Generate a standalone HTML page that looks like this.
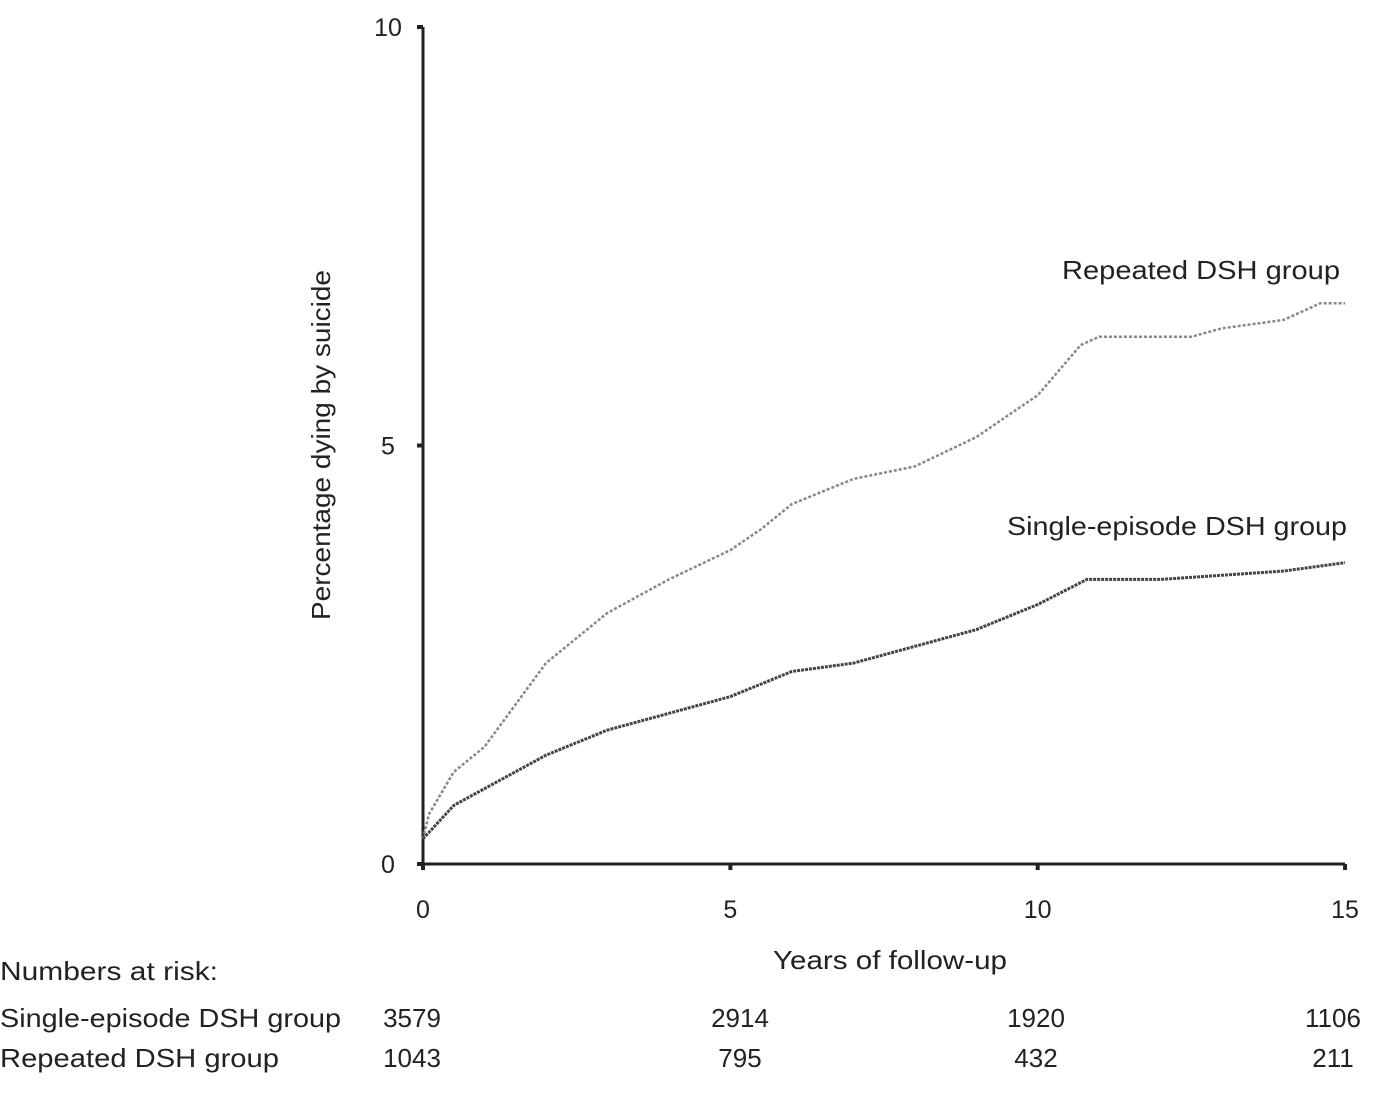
<!DOCTYPE html>
<html><head><meta charset="utf-8"><style>
body{margin:0;background:#fff;}
svg text{font-family:"Liberation Sans",sans-serif;fill:#222;}
</style></head><body>
<svg width="1374" height="1091">
<g id="axes"></g><g id="series"></g><g id="labels"></g>
</svg>
<script>
const xTicks=[0,5,10,15];
const yTicks=[0,5,10];
const repYears=[0,0.1,0.5,1,2,3,4,5,5.5,6,7,8,9,10,10.7,11,12,12.5,13,14,14.6,15];
const repVals=[0.3,0.6,1.1,1.4,2.4,3.0,3.4,3.75,4.0,4.3,4.6,4.75,5.1,5.6,6.2,6.3,6.3,6.3,6.4,6.5,6.7,6.7];
const sinYears=[0,0.5,1,2,3,4,5,6,7,8,9,10,10.8,12,13,14,15];
const sinVals=[0.3,0.7,0.9,1.3,1.6,1.8,2.0,2.3,2.4,2.6,2.8,3.1,3.4,3.4,3.45,3.5,3.6];
const riskSingle=["3579","2914","1920","1106"];
const riskRepeated=["1043","795","432","211"];
const X=v=>423+v*61.47, Y=v=>864-v*83.7;
const NS="http://www.w3.org/2000/svg";
function mk(tag,attrs,parent,txt){const e=document.createElementNS(NS,tag);for(const k in attrs)e.setAttribute(k,attrs[k]);if(txt!==undefined)e.textContent=txt;document.getElementById(parent).appendChild(e);return e;}
let e;
e=mk('line',{x1:X(0),y1:Y(0),x2:X(15),y2:Y(0),stroke:'#222','stroke-width':3},'axes');

e=mk('line',{x1:X(0),y1:Y(0),x2:X(0),y2:Y(10),stroke:'#222','stroke-width':3},'axes');

xTicks.forEach(t=>{
 e=mk('line',{x1:X(t),y1:Y(0),x2:X(t),y2:Y(0)+6,stroke:'#222','stroke-width':4},'axes');
 
 e=mk('text',{x:X(t),y:918,'font-size':25,'text-anchor':'middle'},'axes',String(t));
 
});
yTicks.forEach(t=>{
 e=mk('line',{x1:X(0)-6,y1:Y(t),x2:X(0),y2:Y(t),stroke:'#222','stroke-width':4},'axes');
 
 e=mk('text',{x:X(0)-35,y:Y(t)+9,'font-size':25,'text-anchor':'middle'},'axes',String(t));
 
});
function pts(xs,ys){return xs.map((x,i)=>X(x)+','+Y(ys[i])).join(' ');}
e=mk('polyline',{points:pts(repYears,repVals),fill:'none',stroke:'#888','stroke-width':2.5,'stroke-dasharray':'3,2'},'series');

e=mk('polyline',{points:pts(sinYears,sinVals),fill:'none',stroke:'#444','stroke-width':3,'stroke-dasharray':'3,1'},'series');

e=mk('text',{x:1062,y:279,'font-size':26,textLength:278,lengthAdjust:'spacingAndGlyphs'},'labels','Repeated DSH group');

e=mk('text',{x:1007,y:535,'font-size':26,textLength:340,lengthAdjust:'spacingAndGlyphs'},'labels','Single-episode DSH group');

e=mk('text',{x:330,y:620,'font-size':26,textLength:350,lengthAdjust:'spacingAndGlyphs',transform:'rotate(-90 330 620)'},'labels','Percentage dying by suicide');

e=mk('text',{x:773,y:969,'font-size':26,textLength:234,lengthAdjust:'spacingAndGlyphs'},'labels','Years of follow-up');

e=mk('text',{x:0,y:980,'font-size':26,textLength:218,lengthAdjust:'spacingAndGlyphs'},'labels','Numbers at risk:');

e=mk('text',{x:0,y:1027,'font-size':26,textLength:341,lengthAdjust:'spacingAndGlyphs'},'labels','Single-episode DSH group');

e=mk('text',{x:0,y:1067,'font-size':26,textLength:279,lengthAdjust:'spacingAndGlyphs'},'labels','Repeated DSH group');

const riskX=[412,740,1036,1333];
riskSingle.forEach((v,i)=>{e=mk('text',{x:riskX[i],y:1027,'font-size':26,'text-anchor':'middle'},'labels',v);
 });
riskRepeated.forEach((v,i)=>{e=mk('text',{x:riskX[i],y:1067,'font-size':26,'text-anchor':'middle'},'labels',v);
 });
</script>
</body></html>
